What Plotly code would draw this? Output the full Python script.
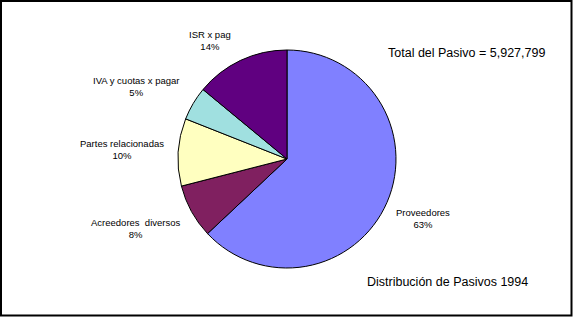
import plotly.graph_objects as go

categories = ["Proveedores", "Acreedores  diversos", "Partes relacionadas", "IVA y cuotas x pagar", "ISR x pag"]
values = [63, 8, 10, 5, 14]
colors = ["#8080FF", "#802060", "#FFFFC0", "#A0E0E0", "#600080"]
total_text = "Total del Pasivo = 5,927,799"
title_text = "Distribución de Pasivos 1994"

W, H = 573, 317
# label centres in pixels
label_pos = [(423, 218), (135, 229), (122, 150), (136, 86), (210, 41)]

fig = go.Figure()
fig.add_trace(go.Pie(
    labels=categories, values=values, sort=False, direction="clockwise", rotation=0,
    marker=dict(colors=colors, line=dict(color="black", width=1)),
    textinfo="none", hoverinfo="label+percent",
    domain=dict(x=[178 / W, 396 / W], y=[1 - 268 / H, 1 - 50 / H]),
    showlegend=False,
))

tot = sum(values)
font_lbl = dict(family="Liberation Sans, Arial, sans-serif", size=9.5, color="black")
for cat, v, (px, py) in zip(categories, values, label_pos):
    fig.add_annotation(x=px / W, y=1 - py / H, xref="paper", yref="paper",
                       text=f"{cat}<br>{round(100 * v / tot)}%", showarrow=False,
                       font=font_lbl, align="center", xanchor="center", yanchor="middle")

fig.add_annotation(x=466 / W, y=1 - 53 / H, xref="paper", yref="paper", text=total_text,
                   showarrow=False, font=dict(family="Liberation Sans, Arial, sans-serif", size=12.5, color="black"),
                   xanchor="center", yanchor="middle")
fig.add_annotation(x=447 / W, y=1 - 282 / H, xref="paper", yref="paper", text=title_text,
                   showarrow=False, font=dict(family="Liberation Sans, Arial, sans-serif", size=12.5, color="black"),
                   xanchor="center", yanchor="middle")

fig.add_shape(type="rect", xref="paper", yref="paper", x0=1 / W, x1=1 - 1.5 / W, y0=1.5 / H, y1=1 - 1 / H,
              line=dict(color="black", width=2))

fig.update_layout(width=W, height=H, margin=dict(l=0, r=0, t=0, b=0),
                  paper_bgcolor="white", plot_bgcolor="white")
fig.write_html("out.html")
